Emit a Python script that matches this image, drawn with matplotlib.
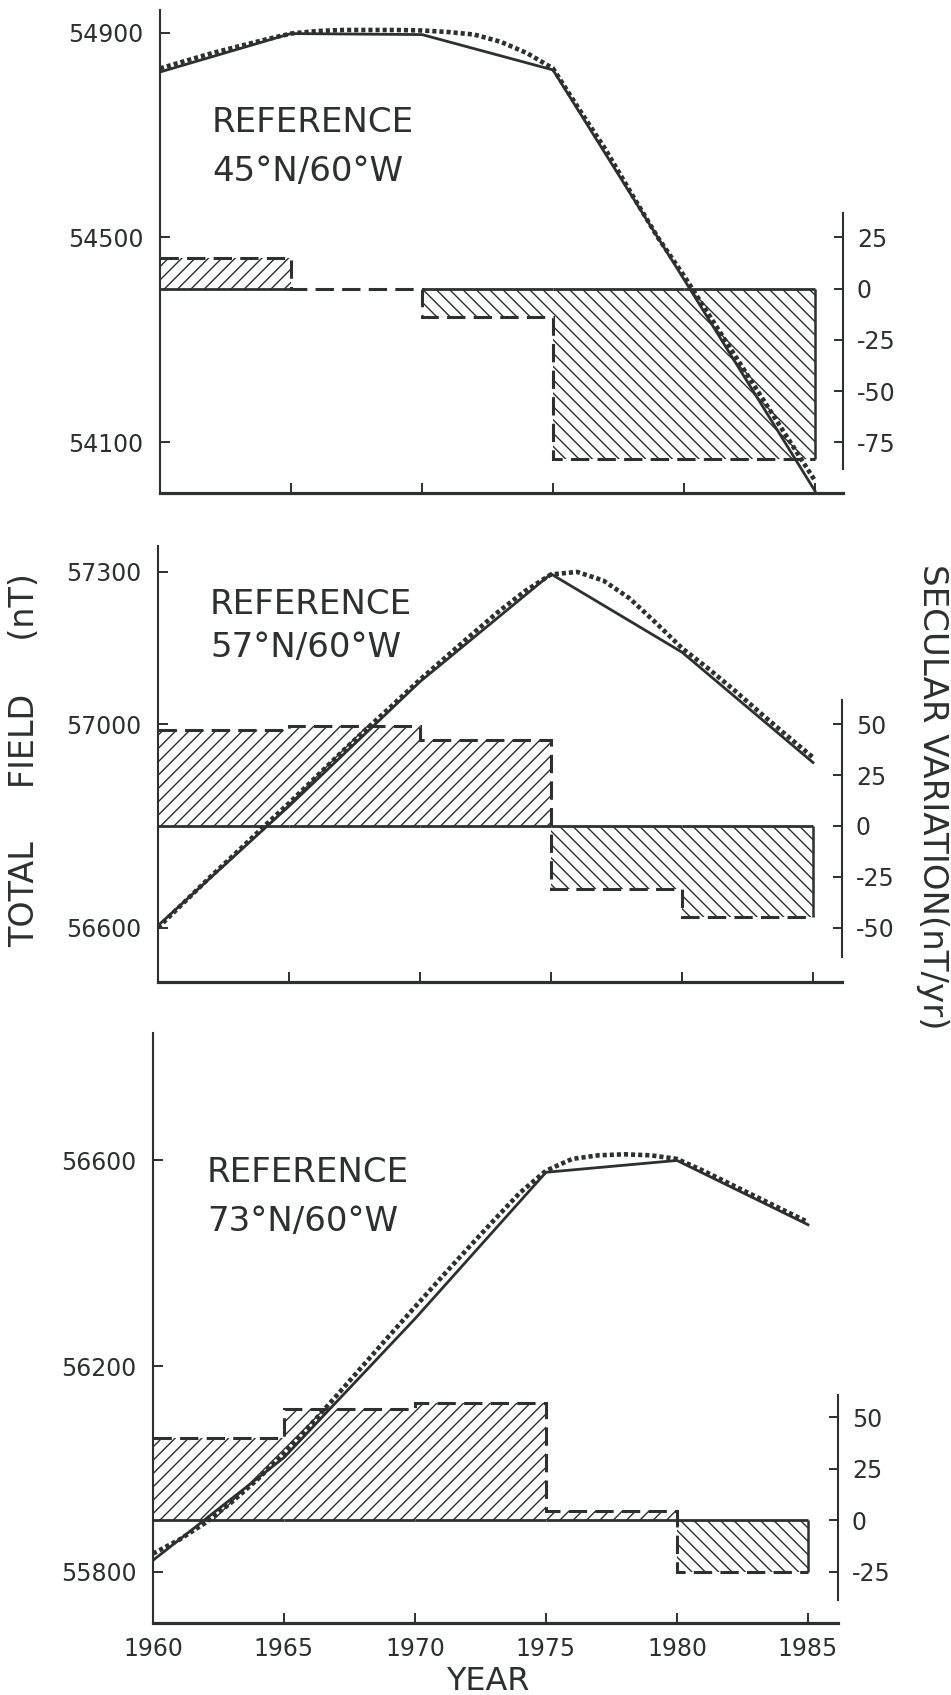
import matplotlib.pyplot as plt

DPI = 120          # chosen so the hatch spacing matches the scan
K = 100 / DPI      # sizes below are written for 100 dpi and scaled by K

plt.rcParams['font.family'] = ['DejaVu Sans']
plt.rcParams['axes.unicode_minus'] = False
plt.rcParams['hatch.linewidth'] = 1.0 * K

INK = '#2c302e'

# SV interval edges (years)
edges = [1960, 1965, 1970, 1975, 1980, 1985]
# model years for the solid line
years5 = [1960, 1965, 1970, 1975, 1980, 1985]
years = list(range(1960, 1986))

# --- 45N / 60W ---
f45_solid = [54823, 54898, 54896, 54827, 54418, 54005]
f45_dotted = [54830, 54845, 54860, 54873, 54886, 54898, 54903, 54905, 54905,
              54905, 54904, 54901, 54896, 54882, 54860, 54830, 54750, 54672,
              54585, 54500, 54425, 54345, 54265, 54185, 54105, 54025]
sv45 = [15, 0, -14, -83, -83]

# --- 57N / 60W ---
f57_solid = [56604, 56839, 57084, 57296, 57142, 56925]
f57_dotted = [56600, 56650, 56700, 56748, 56797, 56845, 56895, 56945, 56993,
              57040, 57088, 57133, 57178, 57222, 57262, 57295, 57300, 57283,
              57248, 57200, 57150, 57110, 57067, 57022, 56978, 56935]
sv57 = [47, 49, 42.5, -31, -45]

# --- 73N / 60W ---
f73_solid = [55822, 56022, 56292, 56577, 56600, 56475]
f73_dotted = [55835, 55862, 55895, 55935, 55980, 56030, 56085, 56142, 56200,
              56258, 56315, 56372, 56428, 56483, 56537, 56580, 56603, 56610,
              56612, 56610, 56603, 56580, 56555, 56530, 56505, 56480]
sv73 = [40, 54, 57, 4.5, -25]

# layout in pixels: rect = left, top, right, bottom ; txt = x, y1, y2
panels = [
    dict(label='45°N/60°W', solid=f45_solid, dotted=f45_dotted, sv=sv45,
         ylim=(54001, 54944), yticks=[54100, 54500, 54900], off=54400,
         svticks=[25, 0, -25, -50, -75], svbounds=(-88, 37),
         rect=[160, 10, 843, 493], txt=(212, 123, 172)),
    dict(label='57°N/60°W', solid=f57_solid, dotted=f57_dotted, sv=sv57,
         ylim=(56493, 57351), yticks=[56600, 57000, 57300], off=56800,
         svticks=[50, 25, 0, -25, -50], svbounds=(-64.5, 62),
         rect=[158, 546, 842, 982], txt=(210, 604, 648)),
    dict(label='73°N/60°W', solid=f73_solid, dotted=f73_dotted, sv=sv73,
         ylim=(55700, 56848), yticks=[55800, 56200, 56600], off=55900,
         svticks=[50, 25, 0, -25], svbounds=(-38.7, 61),
         rect=[153, 1033, 838, 1623], txt=(207, 1173, 1222)),
]

W, H = 951, 1695
fig = plt.figure(figsize=(W / DPI, H / DPI), dpi=DPI)

for i, p in enumerate(panels):
    x0, y0, x1, y1 = p['rect']
    ax = fig.add_axes([x0 / W, 1 - y1 / H, (x1 - x0) / W, (y1 - y0) / H])
    ax2 = ax.twinx()
    ax.set_zorder(ax2.get_zorder() + 1)
    ax.patch.set_visible(False)

    # 1985 sits 26.2 px/yr from the left spine; axis runs a bit past it
    ax.set_xlim(1960, 1960 + (x1 - x0) / 26.2)
    ax.set_ylim(*p['ylim'])
    lo, hi = p['ylim']
    ax2.set_ylim((lo - p['off']) / 4, (hi - p['off']) / 4)

    # field curves
    ax.plot(years5, p['solid'], color=INK, lw=2.0 * K)
    ax.plot(years, p['dotted'], color=INK, lw=3.3 * K, ls=(0, (0.9, 0.65)))

    # secular variation bars
    sv = p['sv']
    bars = ax2.bar(edges[:-1], sv, width=5, align='edge', facecolor='none',
                   edgecolor=INK, linewidth=0)
    for b, v in zip(bars, sv):
        b.set_hatch('///' if v > 0 else '\\\\\\')
    ax2.stairs(sv, edges, baseline=None, color=INK, lw=2.2 * K,
               ls=(0, (6, 2.7)))
    for e0, e1, v in zip(edges[:-1], edges[1:], sv):
        if v != 0:
            ax2.hlines(0, e0, e1, color=INK, lw=2.0 * K)
    ax2.vlines(edges[-1], 0, sv[-1], color=INK, lw=1.8 * K)

    # spines
    for s in ['top', 'right']:
        ax.spines[s].set_visible(False)
    for s in ['top', 'left', 'bottom']:
        ax2.spines[s].set_visible(False)
    ax.spines['left'].set_linewidth(1.5 * K)
    ax.spines['left'].set_color(INK)
    ax.spines['bottom'].set_linewidth(2.3 * K)
    ax.spines['bottom'].set_color(INK)
    ax2.spines['right'].set_linewidth(1.5 * K)
    ax2.spines['right'].set_color(INK)
    ax2.spines['right'].set_bounds(*p['svbounds'])

    ax.set_yticks(p['yticks'])
    ax.set_yticklabels([str(t) for t in p['yticks']])
    ax.tick_params(axis='y', direction='in', length=7 * K, width=1.4 * K,
                   pad=12 * K, labelsize=17 * K, colors=INK)
    ax.set_xticks(edges)
    ax.tick_params(axis='x', direction='in', length=7 * K, width=1.4 * K,
                   pad=10 * K, labelsize=17 * K, colors=INK)
    if i < 2:
        ax.set_xticklabels([])
    else:
        ax.set_xticklabels([str(e) for e in edges])

    ax2.set_yticks(p['svticks'])
    ax2.set_yticklabels([str(t) for t in p['svticks']])
    ax2.tick_params(axis='y', direction='in', length=6.5 * K, width=1.4 * K,
                    pad=10 * K, labelsize=17 * K, colors=INK)

    tx, ty1, ty2 = p['txt']
    fig.text(tx / W, 1 - ty1 / H, 'REFERENCE', fontsize=24.5 * K, color=INK,
             va='center', ha='left')
    fig.text(tx / W, 1 - ty2 / H, p['label'], fontsize=24.5 * K, color=INK,
             va='center', ha='left')

fig.text(25 / W, 1 - 760 / H, 'TOTAL     FIELD     (nT)', rotation=90,
         fontsize=24 * K, color=INK, ha='center', va='center')
fig.text(933 / W, 1 - 797 / H, 'SECULAR VARIATION(nT/yr)', rotation=-90,
         fontsize=24.5 * K, color=INK, ha='center', va='center')
fig.text(488 / W, 1 - 1682 / H, 'YEAR', fontsize=23 * K, color=INK,
         ha='center', va='center')

fig.savefig('out.png', dpi=DPI, facecolor='white')
